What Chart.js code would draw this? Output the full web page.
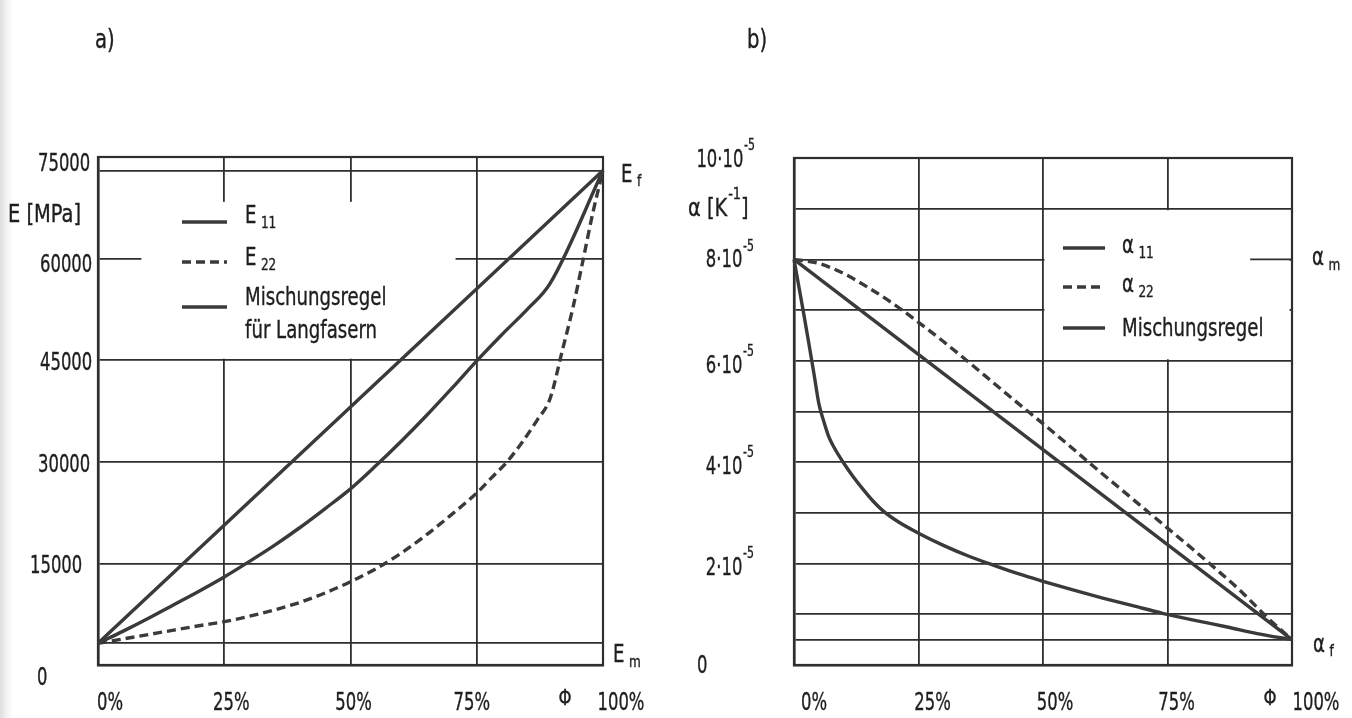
<!DOCTYPE html>
<html lang="de">
<head>
<meta charset="utf-8">
<title>Elastizitätsmodul und Wärmeausdehnung über Faseranteil</title>
<script src="https://cdn.jsdelivr.net/npm/chart.js@4.4.1/dist/chart.umd.min.js"></script>
<style>
  html, body { margin: 0; padding: 0; }
  body {
    width: 1352px; height: 718px; position: relative; overflow: hidden;
    background: linear-gradient(to right, #dedede 0px, #f3f3f3 7px, #ffffff 13px);
  }
  .panel { position: absolute; top: 0; width: 676px; height: 718px; }
  #panelA { left: 0; }
  #panelB { left: 676px; }
</style>
</head>
<body>
<div class="panel" id="panelA"><canvas id="chartE" width="676" height="718"></canvas></div>
<div class="panel" id="panelB"><canvas id="chartAlpha" width="676" height="718"></canvas></div>
<script>
const FONT = "'DejaVu Sans Condensed', 'DejaVu Sans', sans-serif";
const INK = '#1e1e1e';
const GRID = '#2e2e2e';
const CURVE = '#3a3a3a';
const SQ_TICK = 0.76;   // narrow lettering for the scale labels
const SQ_TEXT = 0.84;

// Faseranteil (x-Achse, %)
const phiTicks = [0, 25, 50, 75, 100];

// a) E-Modul in MPa
const E_m = 3200;
const E_f = 73000;
const eTickValues = [0, 15000, 30000, 45000, 60000, 75000];
const phiE11 = [0, 5, 10, 15, 20, 25, 30, 35, 40, 45, 50, 55, 60, 65, 70, 75, 80, 85, 89.5, 100];
const e11 = [3200, 5000, 6900, 8900, 10900, 13000, 15300, 17700, 20300, 23100, 26000, 29400, 33000,
             36800, 40800, 44900, 48800, 52500, 56300, 73000];
const phiE22 = [0, 5, 10, 15, 20, 25, 30, 35, 40, 45, 50, 55, 60, 65, 70, 75, 78, 81, 84, 87, 89.5,
                92, 94, 96, 98, 100];
const e22 = [3200, 3850, 4500, 5150, 5800, 6400, 7200, 8150, 9250, 10650, 12300, 14200, 16500, 19200,
             22200, 25400, 27700, 30000, 32900, 36200, 39300, 46600, 52600, 59600, 66800, 73000];
const phiMixE = [0, 100];
const eMix = [E_m, E_f];

// b) Wärmeausdehnungskoeffizient in 10^-5 1/K
const alpha_m = 8;
const alpha_f = 0.5;
const alphaTickValues = [0, 2, 4, 6, 8, 10];
const alphaTickText = ['0', '2·10^{-5}', '4·10^{-5}', '6·10^{-5}', '8·10^{-5}', '10·10^{-5}'];
const phiA11 = [0, 1, 2, 3, 4, 5, 6, 7, 8, 10, 12, 14, 16, 18, 21, 25, 30, 35, 40, 45, 50, 56, 62, 68,
                74, 80, 87, 93, 100];
const a11 = [8.0, 7.45, 6.9, 6.33, 5.75, 5.15, 4.8, 4.5, 4.3, 3.98, 3.7, 3.45, 3.22, 3.03, 2.82, 2.6,
             2.36, 2.15, 1.97, 1.8, 1.65, 1.48, 1.32, 1.17, 1.02, 0.89, 0.75, 0.62, 0.5];
const phiA22 = [0, 5, 10, 15, 20, 25, 30, 35, 40, 45, 50, 55, 60, 65, 70, 75, 80, 85, 90, 95, 100];
const a22 = [8.0, 7.92, 7.72, 7.44, 7.12, 6.76, 6.38, 5.98, 5.57, 5.16, 4.76, 4.35, 3.93, 3.52, 3.11,
             2.7, 2.29, 1.87, 1.43, 0.94, 0.5];
const phiMixA = [0, 100];
const aMix = [alpha_m, alpha_f];

const pts = (xs, ys) => xs.map((x, i) => ({ x, y: ys[i] }));

function curve(label, xs, ys, dash) {
  return {
    label,
    data: pts(xs, ys),
    borderColor: CURVE,
    borderWidth: 3.4,
    borderDash: dash || [],
    pointRadius: 0,
    fill: false,
    cubicInterpolationMode: 'monotone',
    clip: 6
  };
}

// text with _{index} and ^{exponent} parts, squeezed horizontally
function richText(ctx, str, x, y, size, align, sx) {
  const parts = [];
  const re = /([_^])\{([^}]*)\}/g;
  let last = 0, m;
  while ((m = re.exec(str))) {
    if (m.index > last) parts.push({ t: str.slice(last, m.index), k: '' });
    parts.push({ t: m[2], k: m[1] });
    last = re.lastIndex;
  }
  if (last < str.length) parts.push({ t: str.slice(last), k: '' });

  const small = Math.round(size * 0.68);
  const fontOf = p => (p.k ? small : size) + 'px ' + FONT;
  let w = 0;
  parts.forEach(p => {
    ctx.font = fontOf(p);
    p.w = ctx.measureText(p.t).width;
    p.gap = p.k === '_' ? size * 0.22 : (p.k === '^' ? size * 0.04 : 0);
    w += p.w + p.gap;
  });

  ctx.save();
  ctx.translate(x, y);
  ctx.scale(sx || SQ_TEXT, 1);
  ctx.fillStyle = INK;
  ctx.strokeStyle = INK;
  ctx.lineWidth = 0.35;
  ctx.textAlign = 'left';
  ctx.textBaseline = 'alphabetic';
  let cx = align === 'center' ? -w / 2 : (align === 'right' ? -w : 0);
  parts.forEach(p => {
    ctx.font = fontOf(p);
    cx += p.gap;
    const dy = p.k === '_' ? size * 0.2 : (p.k === '^' ? -size * 0.7 : 0);
    ctx.fillText(p.t, cx, dy);
    ctx.strokeText(p.t, cx, dy);
    cx += p.w;
  });
  ctx.restore();
}

function xScale() {
  return {
    type: 'linear', min: 0, max: 100,
    afterBuildTicks: s => { s.ticks = phiTicks.map(v => ({ value: v })); },
    afterFit: s => { s.height = 53; },
    grid: { color: GRID, lineWidth: 1.8, drawTicks: false },
    border: { color: GRID, width: 2.6 },
    ticks: { display: false }
  };
}

// grid mask behind the legend, scale labels, side labels and captions
function sheetDecor(cfg) {
  return {
    id: 'sheetDecor',
    beforeDatasetsDraw(chart) {
      const { ctx, chartArea: area, scales: { x, y } } = chart;
      const m = cfg.mask;
      const l = x.getPixelForValue(m.x0) + m.inset;
      const r = Math.min(x.getPixelForValue(m.x1) - m.inset, area.right - 2.5);
      const t = y.getPixelForValue(m.y1) + m.inset;
      const b = y.getPixelForValue(m.y0) - m.inset;
      ctx.save();
      ctx.fillStyle = '#ffffff';
      ctx.fillRect(l, t, r - l, b - t);

      // frame around the plot
      ctx.strokeStyle = GRID;
      ctx.lineWidth = 2.2;
      ctx.strokeRect(area.left, area.top, area.right - area.left, area.bottom - area.top);

      if (cfg.stub) {
        const sy = y.getPixelForValue(cfg.stub.y);
        ctx.lineWidth = 1.8;
        ctx.beginPath();
        ctx.moveTo(x.getPixelForValue(cfg.stub.x0), sy);
        ctx.lineTo(x.getPixelForValue(100), sy);
        ctx.stroke();
      }
      ctx.restore();
    },
    afterDraw(chart) {
      const { ctx, scales: { x, y } } = chart;
      ctx.save();

      // scale labels
      const yl = cfg.yLabels;
      yl.values.forEach((v, i) => {
        richText(ctx, yl.text[i], yl.x[i], y.getPixelForValue(v) + yl.dy[i], 24, yl.align[i], SQ_TICK);
      });
      phiTicks.forEach((v, i) => {
        richText(ctx, v + '%', x.getPixelForValue(v) + cfg.xShift[i], 710, 24, 'center', SQ_TICK);
      });

      // legend
      const lg = cfg.legend;
      lg.rows.forEach(row => {
        const ds = chart.data.datasets[row.ds];
        ctx.strokeStyle = CURVE;
        ctx.lineWidth = 3.4;
        ctx.setLineDash(ds.borderDash || []);
        ctx.beginPath();
        ctx.moveTo(lg.x0, row.y);
        ctx.lineTo(lg.x1, row.y);
        ctx.stroke();
        ctx.setLineDash([]);
        row.lines.forEach((t, k) => richText(ctx, t, lg.tx, row.y + row.dy + k * 33, 24, 'left'));
      });

      // labels at the matrix / fibre values
      cfg.sideLabels.forEach(s => {
        richText(ctx, s.text, s.x, y.getPixelForValue(s.value) + s.dy, 24, 'left');
      });

      // captions
      cfg.captions.forEach(c => richText(ctx, c.text, c.x, c.y, c.size, c.align || 'left', c.sx));
      ctx.restore();
    }
  };
}

function baseOptions(yScale, padding) {
  return {
    responsive: false,
    animation: false,
    layout: { padding },
    plugins: { legend: { display: false }, tooltip: { enabled: false } },
    scales: { x: xScale(), y: yScale }
  };
}

// a) E-Modul
new Chart(document.getElementById('chartE'), {
  type: 'line',
  data: {
    datasets: [
      curve('E11', phiE11, e11),
      curve('E22', phiE22, e22, [9, 5]),
      curve('Mischungsregel für Langfasern', phiMixE, eMix)
    ]
  },
  options: baseOptions({
    type: 'linear', min: 0, max: 75000,
    afterBuildTicks: s => {
      s.ticks = [...eTickValues, E_m, E_f].sort((a, b) => a - b).map(v => ({ value: v }));
    },
    afterFit: s => { s.width = 60; },
    grid: { color: GRID, lineWidth: 1.8, drawTicks: false },
    border: { color: GRID, width: 2.6 },
    ticks: { display: false }
  }, { left: 38, right: 73, top: 157, bottom: 0 }),
  plugins: [sheetDecor({
    mask: { x0: 8.3, x1: 71.1, y0: 45000, y1: 68600, inset: 1.5 },
    yLabels: {
      values: eTickValues,
      text: eTickValues.map(String),
      x: [37, 30, 38, 40, 40, 38],
      dy: [20, 10, 10, 10, 13, 14],
      align: ['left', 'left', 'left', 'left', 'left', 'left']
    },
    xShift: [12, 7, 3, -5, 18],
    legend: {
      x0: 182, x1: 227, tx: 245,
      rows: [
        { ds: 0, y: 222, dy: 1, lines: ['E_{11}'] },
        { ds: 1, y: 262, dy: 3, lines: ['E_{22}'] },
        { ds: 2, y: 307, dy: -2, lines: ['Mischungsregel', 'für Langfasern'] }
      ]
    },
    sideLabels: [
      { value: E_f, dy: 11, x: 621, text: 'E_{f}' },
      { value: E_m, dy: 19, x: 613, text: 'E_{m}' }
    ],
    captions: [
      { text: 'E [MPa]', x: 8, y: 222, size: 24, sx: 0.9 },
      { text: 'a)', x: 95, y: 48, size: 26 },
      { text: 'Φ', x: 565, y: 705, size: 22, align: 'center' }
    ]
  })]
});

// b) Wärmeausdehnungskoeffizient
new Chart(document.getElementById('chartAlpha'), {
  type: 'line',
  data: {
    datasets: [
      curve('α11', phiA11, a11),
      curve('α22', phiA22, a22, [9, 5]),
      curve('Mischungsregel', phiMixA, aMix)
    ]
  },
  options: baseOptions({
    type: 'linear', min: 0, max: 10,
    afterBuildTicks: s => {
      const vals = [alpha_f];
      for (let v = 0; v <= 10; v++) vals.push(v);
      s.ticks = vals.sort((a, b) => a - b).map(v => ({ value: v }));
    },
    afterFit: s => { s.width = 97; },
    grid: { color: GRID, lineWidth: 1.8, drawTicks: false },
    border: { color: GRID, width: 2.6 },
    ticks: { display: false }
  }, { left: 21, right: 60, top: 158, bottom: 0 }),
  plugins: [sheetDecor({
    mask: { x0: 50, x1: 100, y0: 6, y1: 9, inset: 1.5 },
    stub: { x0: 91.6, y: alpha_m },
    yLabels: {
      values: alphaTickValues,
      text: alphaTickText,
      x: [21, 78, 78, 78, 78, 79],
      dy: [8, 11, 12, 12, 8, 9],
      align: ['left', 'right', 'right', 'right', 'right', 'right']
    },
    xShift: [20, 14, 12, 9, 24],
    legend: {
      x0: 387, x1: 429, tx: 446,
      rows: [
        { ds: 0, y: 248, dy: 5, lines: ['α_{11}'] },
        { ds: 1, y: 287, dy: 5, lines: ['α_{22}'] },
        { ds: 2, y: 328, dy: 8, lines: ['Mischungsregel'] }
      ]
    },
    sideLabels: [
      { value: alpha_m, dy: 6, x: 636, text: 'α_{m}' },
      { value: alpha_f, dy: 12, x: 637, text: 'α_{f}' }
    ],
    captions: [
      { text: 'α [K^{-1}]', x: 12, y: 216, size: 24, sx: 0.9 },
      { text: 'b)', x: 71, y: 48, size: 26 },
      { text: 'Φ', x: 594, y: 705, size: 22, align: 'center' }
    ]
  })]
});
</script>
</body>
</html>
